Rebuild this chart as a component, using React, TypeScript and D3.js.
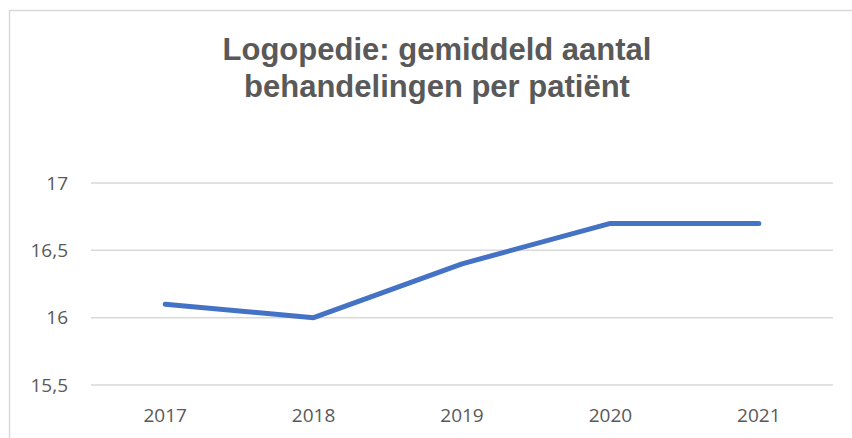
import React from "react";
import * as d3 from "d3";

const years = ["2017", "2018", "2019", "2020", "2021"];
const values = [16.1, 16.0, 16.4, 16.7, 16.7];
const yTicks = [15.5, 16, 16.5, 17];
const titleLines = ["Logopedie: gemiddeld aantal", "behandelingen per patiënt"];

const W = 852;
const H = 438;

export default function App() {
  const x = d3.scaleBand<string>().domain(years).range([91, 833]);
  const y = d3.scaleLinear().domain([15.5, 17]).range([385, 183]);
  const line = d3
    .line<number>()
    .x((_, i) => (x(years[i]) as number) + x.bandwidth() / 2)
    .y((d) => y(d));
  const fmt = (v: number) => String(v).replace(".", ",");
  const labelFont = "'Open Sans', Carlito, Calibri, sans-serif";
  return (
    <svg
      width={W}
      height={H}
      style={{ position: "absolute", left: 0, top: 0, background: "#fff" }}
    >
      <rect x={9.5} y={10.5} width={860} height={460} fill="#fff" stroke="#d9d9d9" strokeWidth={1.5} />
      {titleLines.map((t, i) => (
        <text
          key={i}
          x={437}
          y={60 + i * 37}
          textAnchor="middle"
          fontFamily="Liberation Sans, Arial, sans-serif"
          fontWeight="bold"
          fontSize={31}
          fill="#595959"
        >
          {t}
        </text>
      ))}
      {yTicks.map((t) => (
        <g key={t}>
          <line x1={91} x2={833} y1={y(t)} y2={y(t)} stroke="#d9d9d9" strokeWidth={1.5} />
          <text
            x={68}
            y={y(t) + 6.5}
            textAnchor="end"
            fontFamily={labelFont}
            fontSize={19}
            fill="#595959"
          >
            {fmt(t)}
          </text>
        </g>
      ))}
      {years.map((yr) => (
        <text
          key={yr}
          x={(x(yr) as number) + x.bandwidth() / 2}
          y={422}
          textAnchor="middle"
          fontFamily={labelFont}
          fontSize={19}
          fill="#595959"
        >
          {yr}
        </text>
      ))}
      <path
        d={line(values) || ""}
        fill="none"
        stroke="#4472c4"
        strokeWidth={5}
        strokeLinecap="round"
        strokeLinejoin="round"
      />
    </svg>
  );
}
